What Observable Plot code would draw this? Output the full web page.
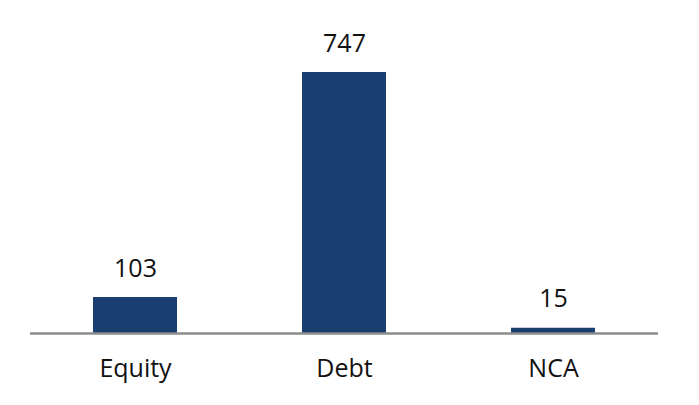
<!DOCTYPE html>
<html>
<head>
<meta charset="utf-8">
<script src="https://cdn.jsdelivr.net/npm/d3@7"></script>
<script src="https://cdn.jsdelivr.net/npm/@observablehq/plot@0.6"></script>
<style>
  html, body { margin: 0; padding: 0; background: #fff; }
  #chart svg { display: block; }
</style>
</head>
<body>
<div id="chart"></div>
<script>
const categories = ["Equity", "Debt", "NCA"];
const values = [103, 747, 15];

const data = categories.map((c, i) => ({category: c, value: values[i]}));

const chart = Plot.plot({
  width: 699,
  height: 405,
  marginLeft: 30,
  marginRight: 41,
  marginTop: 72,
  marginBottom: 72,
  style: {fontFamily: "'Open Sans', sans-serif", background: "#fff", color: "#111"},
  x: {domain: categories, paddingInner: 0.6, paddingOuter: 0.3, axis: null},
  y: {domain: [0, 747], axis: null},
  marks: [
    Plot.barY(data, {x: "category", y: "value", fill: "#1b3e71"}),
    Plot.text(data, {x: "category", y: "value", text: d => String(d.value), lineAnchor: "bottom", dy: -21, fontSize: 25, fill: "#111"}),
    Plot.axisX({tickSize: 0, tickPadding: 26, fontSize: 25, fill: "#111", label: null}),
    Plot.ruleY([0], {stroke: "#8c8c8c", strokeWidth: 2.5})
  ]
});
document.getElementById("chart").appendChild(chart);
</script>
</body>
</html>
